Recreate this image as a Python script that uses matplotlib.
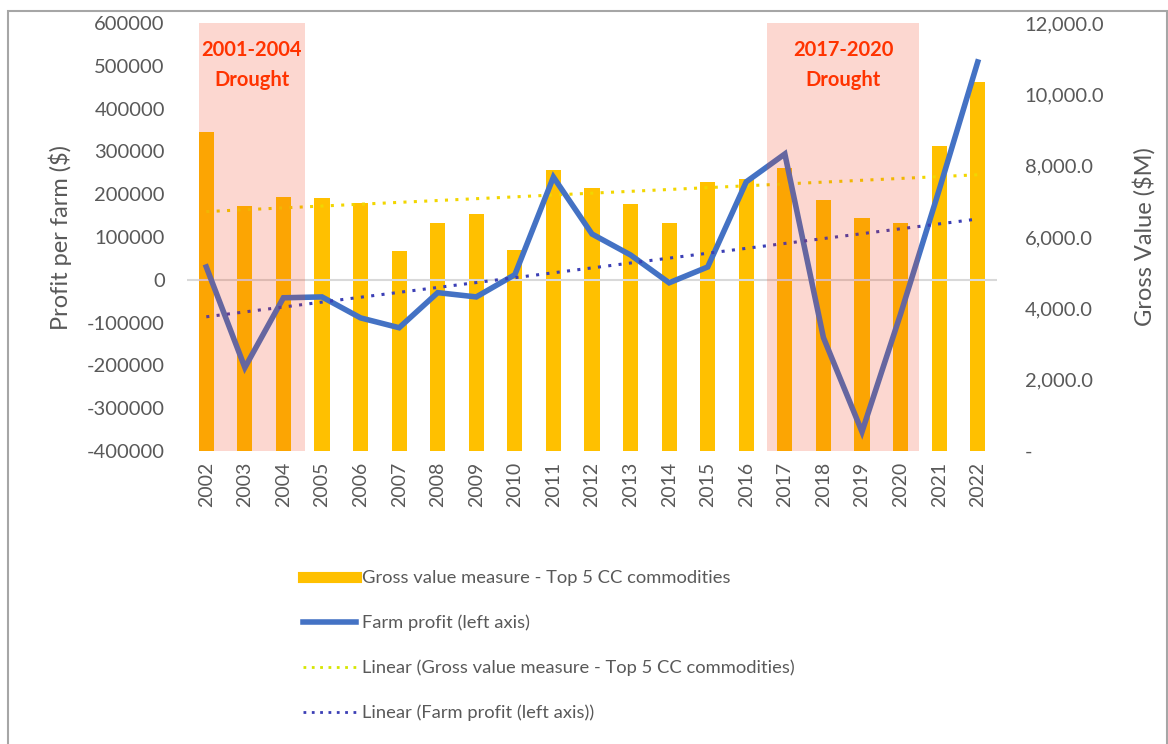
import numpy as np
import matplotlib
matplotlib.use("Agg")
import matplotlib.pyplot as plt
from matplotlib.lines import Line2D
from matplotlib.patches import Rectangle
from matplotlib.ticker import FuncFormatter, MultipleLocator

# dados
anos = list(range(2002, 2023))
valor_bruto = [8950, 6870, 7120, 7090, 6950, 5610, 6390, 6650, 5640, 7880, 7370,
               6930, 6390, 7540, 7630, 7940, 7040, 6530, 6390, 8550, 10350]
lucro = [30000, -205000, -42000, -40000, -89000, -112000, -30000, -40000, 12000,
         240000, 107000, 58000, -7000, 30000, 229000, 294000, -135000, -355000,
         -80000, 210000, 509000]
secas = [("2001-2004\nDrought", 2001.81, 2004.56),
         ("2017-2020\nDrought", 2016.54, 2020.48)]

CINZA = "#595959"
plt.rcParams["font.family"] = ["Lato", "DejaVu Sans"]

fig = plt.figure(figsize=(11.68, 7.44), dpi=100)
ax = fig.add_axes([187 / 1168, 1 - 451 / 744, 810 / 1168, 428 / 744])
ax2 = ax.twinx()
ax.set_zorder(ax2.get_zorder() + 1)
ax.patch.set_visible(False)

x = np.array(anos)
ax2.bar(x, valor_bruto, width=0.39, color="#FFC000", zorder=2)
c_v = np.polyfit(x, valor_bruto, 1)
ax2.plot(x, np.polyval(c_v, x), color="#F2D600", ls=(0, (1, 2.4)), lw=2.2, zorder=3)

ax.axhline(0, color="#D9D9D9", lw=1.5, zorder=1)
ax.plot(x, lucro, color="#4472C4", lw=4, solid_joinstyle="miter", zorder=4)
c_l = np.polyfit(x, lucro, 1)
ax.plot(x, np.polyval(c_l, x), color="#3B3FB5", ls=(0, (1, 2.4)), lw=2.2, zorder=5)

for texto, x0, x1 in secas:
    ax.axvspan(x0, x1, ymin=0, ymax=1, color="#F03A14", alpha=0.2, lw=0, zorder=6)
    ax.text((x0 + x1) / 2, 560000, texto, ha="center", va="top", color="#FF3300",
            fontsize=14.5, fontweight="bold", linespacing=1.6, zorder=7)

ax.set_xlim(2001.5, 2022.5)
ax.set_ylim(-400000, 600000)
ax2.set_ylim(0, 12000)
ax.yaxis.set_major_locator(MultipleLocator(100000))
ax2.yaxis.set_major_locator(MultipleLocator(2000))
ax.yaxis.set_major_formatter(FuncFormatter(lambda v, p: f"{v:.0f}"))
ax2.yaxis.set_major_formatter(FuncFormatter(lambda v, p: "-" if v == 0 else f"{v:,.1f}"))
ax.set_xticks(x)
ax.set_xticklabels([str(a) for a in anos], rotation=90)

for a in (ax, ax2):
    for s in a.spines.values():
        s.set_visible(False)
ax.tick_params(axis="x", length=0, pad=8, labelsize=14, labelcolor=CINZA)
ax.tick_params(axis="y", length=0, pad=16, labelsize=14.5, labelcolor=CINZA)
ax2.tick_params(axis="y", length=0, pad=20, labelsize=14.5, labelcolor=CINZA)
for t in ax2.get_yticklabels():
    t.set_horizontalalignment("left")

ax.set_ylabel("Profit per farm ($)", fontsize=17, color=CINZA)
ax.yaxis.set_label_coords(-0.142, 0.5)
ax2.set_ylabel("Gross Value ($M)", fontsize=17, color=CINZA)
ax2.yaxis.set_label_coords(1.167, 0.5)

handles = [
    Line2D([], [], color="#FFC000", lw=8),
    Line2D([], [], color="#4472C4", lw=4),
    Line2D([], [], color="#D6E600", lw=2, ls=(0, (1, 2))),
    Line2D([], [], color="#3B3FB5", lw=2, ls=(0, (1, 2))),
]
rotulos = ["Gross value measure - Top 5 CC commodities", "Farm profit (left axis)",
           "Linear (Gross value measure - Top 5 CC commodities)",
           "Linear (Farm profit (left axis))"]
fig.legend(handles, rotulos, loc="upper left", bbox_to_anchor=(303 / 1168, 1 - 570 / 744),
           frameon=False, fontsize=13.2, labelcolor=CINZA, handlelength=2.9,
           handletextpad=0.3, labelspacing=1.55, borderpad=0, borderaxespad=0)

fig.add_artist(Rectangle((8 / 1168, -0.02), 1159 / 1168, 1.02 - 11 / 744,
                         transform=fig.transFigure, fill=False, edgecolor="#A6A6A6", lw=1.5))

fig.savefig("out.png", dpi=100)
